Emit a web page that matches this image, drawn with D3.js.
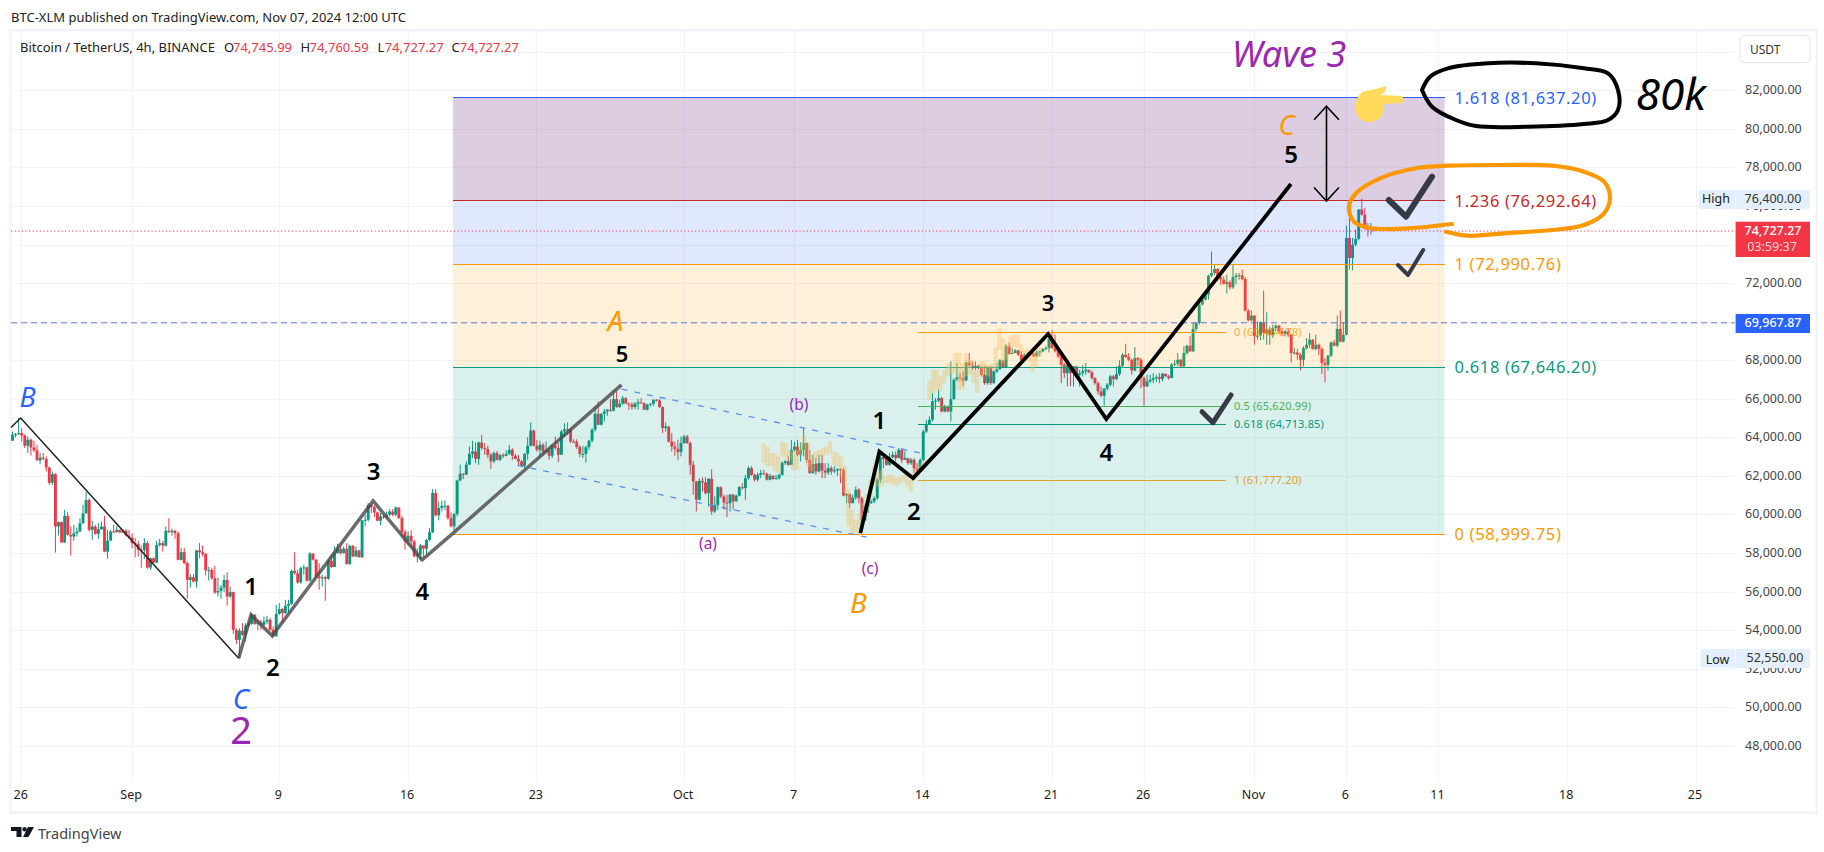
<!DOCTYPE html>
<html><head><meta charset="utf-8">
<style>
html,body{margin:0;padding:0;background:#fff;overflow:hidden}
svg{display:block}
text{font-family:"Noto Sans",sans-serif}
.ax text{font-family:"Noto Sans",sans-serif;font-size:12.5px;fill:#43464f}
.ax path,.ax line{display:none}
</style>
<script src="https://cdnjs.cloudflare.com/ajax/libs/d3/7.8.5/d3.min.js"></script>
</head><body><svg id="c" width="1824" height="852"></svg>
<script>
// ---------- data (prices in thousand USDT; 4h bars from 25 Aug 2024 12:00 UTC) ----------
const firstOpen = 63.85;
const closes = [
64.16,64.19,64.25,64.12,63.59,63.90,63.50,63.35,62.83,62.97,
62.90,62.46,61.67,62.12,59.40,59.63,58.57,59.95,58.97,58.88,
59.05,59.14,59.57,60.09,60.78,59.23,59.40,59.02,59.26,59.40,
58.10,58.67,59.14,59.11,59.23,59.09,59.18,58.93,58.83,58.54,
58.49,58.19,58.17,58.54,57.27,57.76,57.53,58.45,58.54,58.41,
59.18,59.11,59.18,59.05,57.67,58.07,57.50,56.63,56.77,56.55,
58.16,58.07,57.98,57.12,57.15,56.72,55.98,56.06,56.24,56.63,
55.77,56.00,54.04,53.52,53.99,
53.78,54.25,54.35,54.82,54.35,54.42,54.30,54.47,54.56,54.04,
53.70,54.87,55.12,54.91,55.29,55.39,57.10,56.98,56.50,57.24,
57.28,56.59,58.00,57.68,56.81,56.72,56.77,56.69,57.62,57.30,
58.02,58.23,58.02,58.25,57.45,58.40,57.85,58.16,57.81,59.72,
59.75,60.53,60.41,60.13,59.70,59.93,59.89,60.01,60.18,60.01,
60.39,59.84,59.11,58.63,58.92,58.63,57.85,57.94,58.42,58.25,
58.71,59.11,61.14,59.98,60.36,60.48,60.48,59.84,59.41,60.05,
61.79,62.14,62.09,62.61,
63.17,63.29,62.91,63.76,63.47,63.42,63.12,62.78,63.21,62.86,
63.10,63.07,63.17,63.38,63.07,62.90,62.78,62.55,63.17,63.59,
64.38,63.59,63.38,63.64,63.29,63.35,63.07,63.59,63.47,63.12,
64.33,64.45,64.42,63.81,63.80,63.52,63.17,63.17,63.52,63.85,
64.42,65.25,64.68,65.25,65.37,65.46,65.41,66.01,65.60,65.77,
66.06,65.77,65.73,65.60,65.77,65.84,65.80,65.46,65.72,65.77,
65.98,65.94,65.60,64.51,64.59,63.81,63.55,63.43,63.26,63.73,
64.07,63.73,62.60,61.74,60.79,
61.77,61.69,61.13,61.88,60.18,60.51,61.44,60.96,60.65,60.61,
61.05,60.70,61.00,61.44,61.39,61.91,62.43,62.08,61.83,62.08,
62.17,62.14,61.83,62.03,61.86,61.91,62.08,62.69,62.78,62.60,
63.38,63.55,63.12,63.38,63.73,62.86,62.17,62.65,62.26,62.69,
62.31,62.20,62.43,62.26,62.31,62.38,62.34,61.01,61.08,60.61,
60.91,61.31,60.87,59.71,60.44,60.61,60.70,60.87,61.83,63.00,
62.90,62.60,63.00,63.12,62.95,63.38,62.86,62.95,62.69,62.86,
62.43,62.26,62.86,64.33,64.71,64.94,
65.89,65.93,66.06,65.37,65.60,65.37,66.01,67.01,67.15,67.10,
66.98,67.91,67.74,67.71,67.74,67.62,67.27,66.84,67.66,66.84,
67.45,67.57,68.02,67.67,68.75,68.36,68.40,68.54,68.31,68.05,
68.31,68.36,68.40,68.23,68.43,68.49,68.61,68.66,69.13,68.66,
68.49,68.23,67.79,67.36,67.79,67.36,67.71,67.27,67.36,67.45,
67.53,67.40,67.10,66.84,66.41,66.18,66.55,66.76,67.19,67.05,
67.31,67.74,68.31,68.19,68.05,67.50,68.14,68.05,67.10,66.67,
66.93,67.01,67.10,67.15,67.05,
67.33,67.19,67.10,67.80,67.85,68.05,67.71,68.40,68.78,68.49,
69.65,69.96,70.91,71.17,71.43,72.41,72.55,72.76,72.34,72.21,
71.98,72.08,71.81,72.34,72.41,72.43,72.24,70.60,70.10,70.34,
69.27,69.30,70.01,69.44,69.61,69.35,69.70,69.82,69.52,69.40,
69.52,69.35,68.40,68.43,68.31,68.05,68.66,68.83,69.09,68.61,
68.83,68.61,67.88,67.79,68.26,68.95,68.78,69.65,68.99,69.35,
74.37,73.33,74.02,74.32,75.84,75.58,74.84,74.80,74.84,74.727];
const highs = [
64.33,64.25,65.03,64.50,64.19,64.07,63.98,63.85,63.64,63.21,
63.21,63.04,62.51,62.26,62.17,59.66,59.66,60.27,60.15,59.40,
59.49,59.35,59.83,60.53,61.18,60.87,59.70,59.49,59.57,59.66,
59.95,59.23,59.23,59.49,59.44,59.23,59.28,59.28,59.23,59.05,
58.80,58.66,58.42,58.80,58.66,57.79,57.79,58.66,58.76,58.66,
59.40,59.83,59.28,59.23,59.14,58.28,58.28,57.59,56.93,56.93,
58.19,58.54,58.42,58.02,57.32,57.27,57.36,56.75,56.37,56.89,
57.03,56.29,56.03,54.12,54.12,
54.39,54.39,54.48,54.91,54.86,54.56,54.56,54.73,54.77,54.65,
54.22,55.34,55.43,55.17,55.60,55.60,57.16,58.07,57.16,57.33,
57.42,57.33,58.07,58.02,57.71,57.50,56.90,56.85,57.68,57.94,
58.37,58.51,58.37,58.37,58.54,58.45,58.45,58.37,58.20,59.75,
60.01,60.62,60.58,60.48,60.18,60.10,60.01,60.18,60.31,60.31,
60.44,60.41,59.96,59.23,59.15,59.20,58.71,58.28,58.50,58.28,
58.75,59.32,61.34,61.34,60.70,60.75,60.75,60.53,60.13,60.10,
61.83,62.61,62.17,62.78,
63.55,63.85,63.76,63.81,64.16,63.73,63.59,63.21,63.29,63.33,
63.17,63.21,63.35,63.64,63.47,63.17,63.12,62.86,63.21,64.04,
64.80,64.42,63.90,63.85,63.73,63.81,63.47,63.62,64.07,63.73,
64.42,64.76,64.80,64.49,63.93,63.93,63.62,63.59,63.59,63.90,
64.50,65.63,65.89,65.28,65.49,65.49,66.01,66.41,66.41,65.98,
66.18,66.11,65.84,65.84,65.87,66.01,66.06,65.84,65.77,65.80,
65.98,66.01,66.01,65.63,64.80,64.59,64.25,63.81,63.90,64.07,
64.16,64.16,63.81,62.81,61.77,
61.91,61.95,61.95,61.91,62.38,60.96,61.48,61.48,61.05,61.05,
61.08,61.10,61.05,61.51,61.65,62.08,62.52,62.52,62.14,62.20,
62.34,62.34,62.20,62.14,62.08,62.08,62.14,62.78,62.86,63.04,
63.90,63.81,63.90,63.76,64.51,63.76,63.38,63.12,62.95,63.12,
63.12,62.69,62.69,62.55,62.52,62.43,62.43,62.43,61.13,61.13,
61.05,61.48,61.39,60.96,60.53,60.70,60.79,60.96,61.91,63.12,
63.07,63.00,63.21,63.30,63.30,63.47,63.47,63.30,62.95,62.95,
62.95,62.69,62.95,64.42,64.94,65.11,
66.32,66.06,66.50,66.12,65.72,65.67,67.97,67.10,67.88,67.36,
67.45,67.97,68.40,67.97,67.97,67.79,67.74,67.71,67.71,67.71,
67.50,67.88,68.09,68.05,68.88,68.92,68.66,68.61,68.57,68.49,
68.40,68.43,68.49,68.43,68.54,68.54,68.66,68.75,69.26,69.58,
69.35,68.61,68.26,67.88,67.88,67.67,67.74,67.71,67.53,67.79,
67.88,67.53,67.50,67.15,66.93,66.67,66.58,66.84,67.27,67.27,
67.71,68.02,68.40,68.88,68.40,68.09,68.71,68.19,68.14,67.19,
67.27,67.27,67.36,67.27,67.36,
67.36,67.28,67.28,67.88,68.05,68.40,68.09,68.75,68.83,69.27,
69.99,69.99,70.99,71.25,71.51,72.46,73.66,72.98,72.81,72.46,
72.38,72.46,72.17,72.98,72.55,72.55,72.73,72.34,70.68,70.61,
70.37,70.04,70.04,71.63,70.51,69.78,69.87,69.87,69.87,69.70,
69.61,69.65,69.39,68.66,68.61,68.40,68.75,69.18,69.44,69.13,
69.35,68.88,68.71,68.14,68.31,69.00,69.09,70.34,70.60,70.01,
75.01,75.49,74.37,74.80,75.87,76.40,75.93,75.15,75.15,74.761];
const lows = [
63.85,64.02,64.16,63.81,63.47,63.21,63.09,63.26,62.83,62.65,
62.86,62.26,61.56,61.56,58.05,58.93,58.57,58.54,58.93,57.90,
58.66,58.88,59.11,59.54,60.06,59.14,58.71,58.97,58.76,59.23,
58.07,57.72,58.66,59.07,59.09,59.05,59.05,58.88,58.76,58.28,
57.80,57.85,57.27,57.72,57.20,57.15,57.50,57.50,58.36,58.10,
58.36,59.05,58.93,58.76,57.64,57.64,57.45,55.65,56.24,56.50,
56.24,57.76,57.85,56.86,56.60,56.63,55.91,55.77,55.65,56.00,
55.30,55.68,53.83,53.30,52.55,
53.73,53.44,54.22,54.30,54.30,54.04,54.04,54.22,54.35,54.01,
53.66,53.70,54.82,54.42,54.87,54.91,55.34,56.90,56.43,56.43,
56.90,56.55,56.55,57.64,56.72,56.12,56.29,55.55,56.64,57.24,
57.30,57.99,57.94,57.99,57.42,57.42,57.81,57.81,57.78,57.76,
59.41,59.67,60.10,59.89,59.67,59.46,59.79,59.79,59.93,59.93,
59.93,59.79,58.89,58.19,58.45,58.37,57.81,57.54,57.64,57.81,
57.94,58.63,59.06,59.93,59.72,60.18,60.24,59.75,59.35,59.20,
59.93,61.74,61.86,62.09,
62.60,62.95,62.69,62.60,63.38,63.12,62.95,62.40,62.69,62.83,
62.78,62.95,63.04,63.12,62.86,62.90,62.55,62.48,62.43,62.86,
63.55,63.55,63.29,63.07,63.12,63.21,62.86,62.95,63.38,62.74,
63.12,64.07,64.16,63.73,63.73,63.43,63.00,62.95,62.72,63.38,
63.76,64.33,64.68,64.64,64.85,65.15,65.35,65.37,65.56,65.56,
65.72,65.77,65.46,65.46,65.49,65.46,65.77,65.46,65.42,65.63,
65.66,65.89,65.56,64.25,64.33,63.76,63.29,63.07,62.86,63.04,
63.69,63.69,62.08,61.05,60.18,
60.75,61.22,61.05,60.44,60.01,60.10,60.27,60.87,60.27,59.89,
60.18,60.27,60.70,60.96,61.31,60.79,61.83,62.03,61.74,61.74,
61.91,62.08,61.79,61.79,61.83,61.83,61.83,62.03,62.60,62.55,
62.78,63.30,63.04,62.78,63.04,62.69,62.14,62.14,62.08,62.20,
61.91,61.91,62.08,62.08,62.17,62.03,61.65,60.96,60.61,60.35,
60.70,60.79,60.61,59.66,59.71,60.10,60.58,60.61,60.79,61.65,
62.43,62.55,62.55,62.95,62.78,62.95,62.69,62.86,62.60,62.60,
62.17,62.20,62.26,62.78,64.25,64.68,
64.85,65.46,65.84,65.32,65.32,65.32,64.85,65.98,66.93,66.93,
66.67,66.93,67.71,67.53,67.53,67.57,67.19,66.75,66.75,66.75,
66.81,67.36,67.53,67.62,67.62,68.31,68.36,68.40,68.26,68.02,
67.97,68.26,68.31,68.19,68.19,68.23,68.43,68.54,68.43,68.61,
68.43,68.14,66.84,67.10,66.67,66.67,66.67,67.19,66.67,67.19,
67.27,67.36,67.01,66.75,66.24,66.11,65.67,66.46,66.67,66.67,
66.99,67.22,67.67,68.14,67.97,67.27,67.45,67.71,66.58,65.67,
66.64,66.84,66.84,66.89,66.84,
66.93,67.18,67.02,67.10,67.71,67.71,67.67,67.67,68.31,68.45,
68.45,69.52,69.87,70.87,71.13,71.17,72.34,72.46,72.12,71.95,
71.95,71.48,71.69,71.72,71.95,72.21,72.17,70.56,70.04,70.04,
68.83,69.09,69.06,69.09,68.83,68.83,69.18,69.52,69.44,69.27,
69.27,69.23,67.91,68.31,68.05,67.50,67.71,68.57,68.66,68.57,
68.54,68.31,67.31,66.88,67.50,68.19,68.75,68.71,68.95,68.95,
69.32,72.73,72.69,73.94,74.25,75.53,74.80,74.45,74.54,74.727];

// faded pasted price pattern (high / low)
const ghostHighs = [63.73,63.55,63.21,63.21,63.04,63.81,63.73,63.38,63.30,63.38,63.73,64.16,63.73,63.12,63.30,63.38,63.47,63.55,63.81,63.30,63.21,63.04,62.52,61.31,60.27,59.75,60.10,60.61,61.13,61.83,62.52,62.17,62.34,62.00,62.08,62.08,61.91,62.00,62.08,62.08,61.83,62.34,62.52,62.69,62.86,
67.01,67.53,67.53,67.19,67.53,67.88,67.71,68.40,68.40,67.88,68.40,68.05,67.53,67.53,67.97,67.97,67.79,67.88,68.66,69.70,69.18,68.75,69.26,69.35,69.35,68.83,68.57,68.66,68.57,68.40,68.66];
const ghostLows = [62.69,62.52,62.52,62.26,62.17,63.04,62.95,62.86,62.34,62.34,63.12,63.38,62.52,62.26,62.78,62.86,63.04,63.12,63.21,62.60,62.52,62.00,61.13,59.40,59.06,59.06,59.23,59.75,60.27,60.79,61.48,61.48,61.48,61.65,61.65,61.57,61.48,61.65,61.74,61.48,61.22,61.83,62.08,62.26,62.52,
65.98,66.32,66.50,66.41,66.84,67.19,67.27,67.36,66.50,66.50,67.19,67.27,66.84,66.32,67.19,67.27,67.19,67.53,67.53,68.57,67.88,68.05,68.66,68.75,68.66,68.40,68.05,67.97,67.45,67.71,68.23];
const ghostStartBar = 245, ghostBarStep = 1.2;

const priceTicks = [48,50,52,54,56,58,60,62,64,66,68,70,72,74,76,78,80,82];
const gridPrices = priceTicks.concat([84]);
const timeTicks = ["2024-08-26","2024-09-01","2024-09-09","2024-09-16","2024-09-23","2024-10-01","2024-10-07","2024-10-14","2024-10-21","2024-10-26","2024-11-01","2024-11-06","2024-11-11","2024-11-18","2024-11-25"];
const timeLabels = ["26","Sep","9","16","23","Oct","7","14","21","26","Nov","6","11","18","25"];

const fibRatios = ["1.618","1.236","1","0.618","0"];
const fibPrices = [81.6372,76.29264,72.99076,67.6462,58.99975];
const fibPriceText = ["81,637.20","76,292.64","72,990.76","67,646.20","58,999.75"];
const innerRatios = ["0","0.5","0.618","1"];
const innerPrices = [69.46478,65.62099,64.71385,61.7772];
const innerPriceText = ["69,464.78","65,620.99","64,713.85","61,777.20"];

// wave paths: position in bars and price
const thinBars = [-0.5,2.67,73.75], thinPrices = [64.54,65.03,52.57];
const greyBars = [73.75,77.8,84.7,117.6,133.6,143.7,198.6], greyPrices = [52.57,54.82,53.73,60.73,57.67,59.06,66.75];
const blackBars = [276.5,282.7,293.7,337.7,356.7,416.9], blackPrices = [59.06,63.29,61.91,69.39,64.97,77.17];
const channelUpBars = [198.6,297.5], channelUpPrices = [66.53,63.16];
const channelLowBars = [164.7,278.5], channelLowPrices = [62.57,58.85];

// ---------- scales ----------
if (closes.length!==highs.length||closes.length!==lows.length) throw new Error("len "+closes.length+" "+highs.length+" "+lows.length);
if (ghostHighs.length!==ghostLows.length) throw new Error("ghost len");
const H4 = 4*3600*1000, T0 = Date.UTC(2024,7,25,12);
const x = d3.scaleUtc().domain([new Date("2024-08-26"),new Date("2024-11-25")]).range([21.7,1696]);
const y = d3.scaleLinear().domain([48,84]).range([746.3,52.3]);
const xb = i => x(new Date(T0+i*H4));
const fmt = d3.format(",.2f");
const svg = d3.select("#c");
const chartL=11, chartR=1735, chartT=31, chartB=781.5;

const defs = svg.append("defs");
defs.append("clipPath").attr("id","plot").append("rect")
  .attr("x",chartL).attr("y",chartT).attr("width",chartR-chartL).attr("height",chartB-chartT);
defs.append("filter").attr("id","soft").append("feGaussianBlur").attr("stdDeviation",.7);

// frame
const frame = svg.append("g").attr("fill","#f0f3fa");
frame.append("rect").attr("x",9.5).attr("y",29).attr("width",1808).attr("height",2.5);
frame.append("rect").attr("x",9.5).attr("y",811.5).attr("width",1808).attr("height",2.5);
frame.append("rect").attr("x",9.5).attr("y",29).attr("width",2).attr("height",785);
frame.append("rect").attr("x",1815.5).attr("y",29).attr("width",2).attr("height",785);

// grid
const grid = svg.append("g").attr("stroke","#f0f3fa").attr("stroke-width",1).attr("shape-rendering","crispEdges");
grid.selectAll(".h").data(gridPrices).join("line").attr("x1",chartL).attr("x2",chartR).attr("y1",d=>y(d)).attr("y2",d=>y(d));
grid.selectAll(".v").data(timeTicks).join("line").attr("y1",chartT).attr("y2",chartB).attr("x1",d=>x(new Date(d))).attr("x2",d=>x(new Date(d)));

const plot = svg.append("g").attr("clip-path","url(#plot)");

// candles
const bars = closes.map((c,i)=>({i,c,h:highs[i],l:lows[i],o:i?closes[i-1]:firstOpen}));
const col = d=>d.c>=d.o?"#089981":"#f23645";
const cg = plot.append("g");
cg.selectAll(".w").data(bars).join("line").attr("x1",d=>xb(d.i)).attr("x2",d=>xb(d.i)).attr("y1",d=>y(d.h)).attr("y2",d=>y(d.l)).attr("stroke",col).attr("stroke-width",1);
cg.selectAll(".b").data(bars).join("rect").attr("x",d=>xb(d.i)-1.45).attr("width",2.9)
  .attr("y",d=>y(Math.max(d.o,d.c))).attr("height",d=>Math.max(1,Math.abs(y(d.o)-y(d.c)))).attr("fill",col);

// fib zones
const zoneFills = ["rgba(85,5,100,.2)","rgba(41,98,255,.15)","rgba(255,152,0,.15)","rgba(8,153,129,.15)"];
const lineCols = ["#2962ff","#c62828","#ff9800","#089981","#ff9800"];
const zL = xb(143.6), zR = xb(467);
const zg = plot.append("g");
zg.selectAll("rect").data(zoneFills).join("rect").attr("x",zL).attr("width",zR-zL)
  .attr("y",(d,i)=>y(fibPrices[i])).attr("height",(d,i)=>y(fibPrices[i+1])-y(fibPrices[i])).attr("fill",d=>d);
zg.selectAll("line").data(fibPrices).join("line").attr("x1",zL).attr("x2",zR).attr("y1",d=>y(d)).attr("y2",d=>y(d))
  .attr("stroke",(d,i)=>lineCols[i]).attr("stroke-width",1).attr("shape-rendering","crispEdges");

// ghost pattern
plot.append("g").attr("filter","url(#soft)").selectAll("rect").data(ghostHighs).join("rect")
  .attr("x",(d,i)=>xb(ghostStartBar+i*ghostBarStep)-2.2).attr("width",4.4)
  .attr("y",d=>y(d)).attr("height",(d,i)=>y(ghostLows[i])-y(d))
  .attr("fill","#f0bc62").attr("opacity",.36);

// inner fib
const innerCols = ["#ff9800","#4caf50","#089981","#e0a030"];
const iL = xb(295.4), iR = xb(395.7);
const ig = svg.append("g");
ig.selectAll("line").data(innerPrices).join("line").attr("x1",iL).attr("x2",iR).attr("y1",d=>y(d)).attr("y2",d=>y(d)).attr("stroke",(d,i)=>innerCols[i]).attr("stroke-width",1).attr("shape-rendering","crispEdges");
ig.selectAll("text").data(innerPrices).join("text").attr("x",iR+8).attr("y",d=>y(d)+3.7).attr("font-size",11).attr("letter-spacing",.15)
  .attr("fill",(d,i)=>innerCols[i]).attr("opacity",(d,i)=>i?1:.75).text((d,i)=>innerRatios[i]+" ("+innerPriceText[i]+")");

// price lines
svg.append("line").attr("x1",chartL).attr("x2",chartR).attr("y1",y(74.72727)).attr("y2",y(74.72727)).attr("stroke","#f23645").attr("stroke-width",1).attr("stroke-dasharray","1.2 2.4");
svg.append("line").attr("x1",chartL).attr("x2",chartR).attr("y1",y(69.96787)).attr("y2",y(69.96787)).attr("stroke","#5d7be0").attr("stroke-width",1).attr("stroke-dasharray","6 4");

// waves
const wave = (xs,ps,stroke,w,extra)=>{
  const l = d3.line().x(d=>xb(d[0])).y(d=>y(d[1]));
  const p = svg.append("path").attr("d",l(xs.map((b,i)=>[b,ps[i]]))).attr("fill","none").attr("stroke",stroke).attr("stroke-width",w).attr("stroke-linejoin","miter");
  if(extra) p.attr("stroke-dasharray",extra);
  return p;
};
wave(channelUpBars,channelUpPrices,"#5b8cf5",1.3,"6 7");
wave(channelLowBars,channelLowPrices,"#5b8cf5",1.3,"6 7");
wave(thinBars,thinPrices,"#222",1.5);
wave(greyBars,greyPrices,"#4a4a4a",3.5).attr("opacity",.82);
wave(blackBars,blackPrices,"#000",3.8);

// fib labels
svg.append("g").selectAll("text").data(fibPrices).join("text").attr("x",zR+10).attr("y",d=>y(d)+5.8).attr("font-size",16.5).attr("letter-spacing",.65)
  .attr("fill",(d,i)=>lineCols[i]).text((d,i)=>fibRatios[i]+" ("+fibPriceText[i]+")");

// axes
const ya = svg.append("g").attr("class","ax").attr("transform",`translate(${chartR},-1)`)
  .call(d3.axisRight(y).tickValues(priceTicks).tickSize(0).tickPadding(10).tickFormat(d=>fmt(d*1000)));
const xa = svg.append("g").attr("class","ax").attr("transform",`translate(-1.5,${chartB})`)
  .call(d3.axisBottom(x).tickValues(timeTicks.map(d=>new Date(d))).tickSize(0).tickPadding(9).tickFormat((d,i)=>timeLabels[i]));
xa.selectAll("text").style("fill","#222");

// annotation text
const T = (s,px,py,size,fill,o={})=>svg.append("text").attr("x",px).attr("y",py).attr("font-size",size).attr("fill",fill)
  .attr("text-anchor",o.a||"middle").attr("dominant-baseline","central").attr("font-style",o.i?"italic":"normal").attr("font-weight",o.w||400).text(s);
const blue="#2962ff",orange="#ff9800",purple="#9c27b0";
T("B",27.7,396,27,blue,{i:1});
T("C",241,698,28,blue,{i:1});
T("2",241,729,38,purple);
T("1",251,585,24,"#000",{w:600});
T("2",272.8,666,24,"#000",{w:600});
T("3",373.7,470,24,"#000",{w:600});
T("4",422.3,590,24,"#000",{w:600});
T("5",622,353,22,"#000",{w:600});
T("A",615.4,320,28,orange,{i:1});
T("(a)",708,543,15.5,purple);
T("(b)",799,404,15.5,purple);
T("(c)",870,568,15.5,purple);
T("B",858.5,602,28,orange,{i:1});
T("1",879.4,419,24,"#000",{w:600});
T("2",913.8,510,24,"#000",{w:600});
T("3",1048,302,22,"#000",{w:600});
T("4",1106.4,451,24,"#000",{w:600});
T("5",1291,153,24,"#000",{w:600});
T("C",1286.8,124,28,orange,{i:1});
T("Wave 3",1289,53,36,purple,{i:1});
T("80k",1671,93,44,"#000",{i:1});

// header + legend
T("BTC-XLM published on TradingView.com, Nov 07, 2024 12:00 UTC",11,17,13,"#222",{a:"start"});
T("Bitcoin / TetherUS, 4h, BINANCE",20,47,13,"#222",{a:"start"});
const legendKeys=["O","H","L","C"], legendVals=[74745.99,74760.59,74727.27,74727.27], keyX=[224,300.5,377.6,451.5], valX=[233,309.6,384.7,459.8];
legendKeys.forEach((k,i)=>{T(k,keyX[i],47,13,"#222",{a:"start"});T(fmt(legendVals[i]),valX[i],47,13,"#f23645",{a:"start"});});

// logo
svg.append("path").attr("d","M11 827H21.5V837H16.5V831H11ZM28 827H34L28.5 837H23Z").attr("fill","#131722");
svg.append("circle").attr("cx",24.6).attr("cy",829.2).attr("r",2.2).attr("fill","#131722");
T("TradingView",38,832.5,14.5,"#444",{a:"start"});

// hand drawings
const cat = d3.line().curve(d3.curveCatmullRom.alpha(.5));
const sketch=(pts,stroke,w,curve)=>svg.append("path").attr("d",(curve?cat:d3.line())(pts)).attr("fill","none").attr("stroke",stroke).attr("stroke-width",w).attr("stroke-linecap","round").attr("stroke-linejoin","round");
sketch([[1422,90],[1430,76.7],[1448,68.3],[1488,63.3],[1536,63.3],[1584,68.3],[1608,73.3],[1618,90],[1618,110],[1608,120],[1584,124],[1528,126.7],[1476,126],[1456,120],[1432,106.7],[1422,90]],"#000",4,true);
sketch([[1452,224],[1408,228.3],[1372,228.3],[1354,221.7],[1349,206.7],[1356,193.3],[1380,178.3],[1416,168.3],[1448,165.7],[1504,165],[1552,165.7],[1584,171.7],[1604,181.7],[1610,196.7],[1604,213.3],[1584,225],[1552,230],[1504,233.3],[1468,235.7],[1446,231.7]],orange,4.2,true);
sketch([[1388.8,200],[1406,216.7],[1432,176.7]],"#363a45",6);
sketch([[1398,265],[1408,275],[1423.2,250]],"#363a45",4);
sketch([[1202,411.7],[1213,422.7],[1231,395]],"#363a45",5);

// double arrow
const ax = xb(428.5), aT=y(81.2), aB=y(76.29);
sketch([[ax,aT],[ax,aB]],"#000",1.6);
sketch([[ax-12,aT+13],[ax,aT],[ax+12,aT+13]],"#000",1.6);
sketch([[ax-12,aB-13],[ax,aB],[ax+12,aB-13]],"#000",1.6);

// pointing hand
svg.append("path").attr("d","M1362 92 Q1372 90 1386 86 Q1388 91 1380 95 L1402 96 Q1405 100 1402 103 L1384 104 Q1384 112 1380 118 Q1374 123 1366 122 Q1356 118 1355 108 Q1356 97 1362 92Z").attr("fill","#ffd95a");

// price-axis boxes
const box=(bx,by,w,h,fill)=>svg.append("rect").attr("x",bx).attr("y",by).attr("width",w).attr("height",h).attr("fill",fill);
box(1699,190,36,19,"#e3effd");box(1735.6,190,74.4,19,"#e3effd");
T("High",1716,198.5,12.5,"#222");T("76,400.00",1773,198.5,12.5,"#333");
box(1700.5,649,34.5,19,"#e3effd");box(1735.6,649,74.4,19,"#e3effd");
T("Low",1717.5,659,12.5,"#222");T("52,550.00",1775,657,12.5,"#333");
box(1735.6,221.7,74.4,35.3,"#f23645");
T(fmt(74727.27),1773,230,12.5,"#fff",{w:500});T("03:59:37",1772,246,12.5,"#fff").attr("opacity",.8);
box(1735.6,314,74.4,19,"#2962ff");
T(fmt(69967.87),1773,322.5,12.5,"#fff",{w:500});
svg.append("rect").attr("x",1740).attr("y",35.5).attr("width",70).attr("height",27).attr("rx",4).attr("fill","#fff").attr("stroke","#e0e3eb").attr("stroke-width",1);
T("USDT",1750,49,12,"#333",{a:"start"});
</script></body></html>
